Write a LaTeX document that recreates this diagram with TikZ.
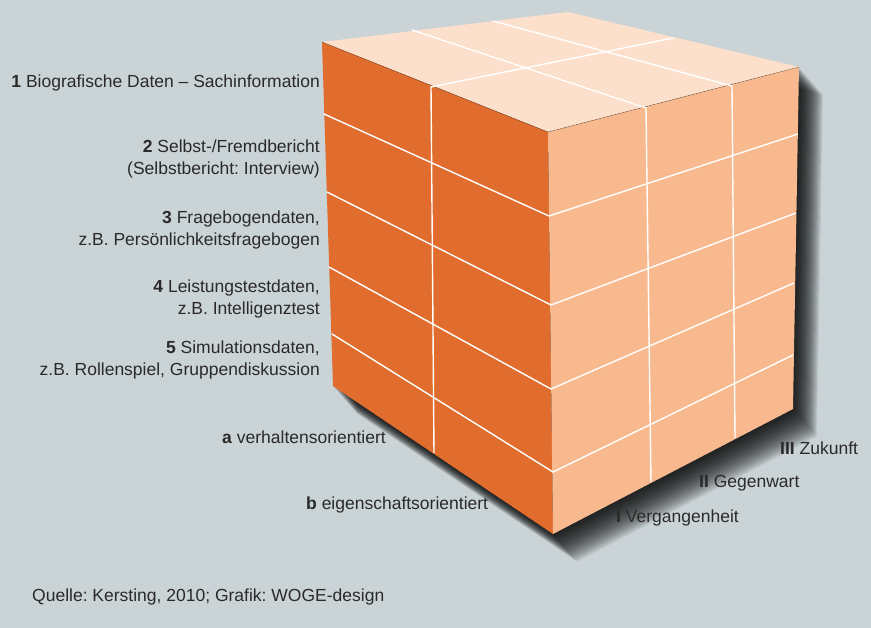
\documentclass[tikz,border=0pt]{standalone}
\usepackage{fontspec}
\setmainfont{Liberation Sans}
\usepackage{xcolor}
\definecolor{bgcol}{HTML}{CAD3D6}
\definecolor{leftcol}{HTML}{E06C2D}
\definecolor{rightcol}{HTML}{F9B98F}
\definecolor{topcol}{HTML}{FCE0CB}
\definecolor{textcol}{HTML}{2B2A29}
\frenchspacing

\begin{document}
\begin{tikzpicture}[x=1pt, y=-1pt,
			gridline/.style={white, line width=1.4pt},
			label/.style={inner sep=0pt, text=textcol, font=\fontsize{17.5}{22}\selectfont},
			rlabel/.style={label, anchor=east, align=right},
			llabel/.style={label, anchor=west}]
			
			\useasboundingbox (0,0) rectangle (871,628);
			\fill[bgcol] (0,0) rectangle (871,628);
			
			% Ecken des Wuerfels
			\coordinate (A) at (322,42);
			\coordinate (B) at (568,12);
			\coordinate (C) at (799,67);
			\coordinate (D) at (548,132);
			\coordinate (E) at (553,534);
			\coordinate (F) at (333,386);
			\coordinate (G) at (793,409);
			
			% Zeilen: links, vorne, rechts
			\coordinate (l1) at (324,114); \coordinate (f1) at (549,216); \coordinate (r1) at (798,134);
			\coordinate (l2) at (327,192); \coordinate (f2) at (551,305); \coordinate (r2) at (796,213);
			\coordinate (l3) at (329,267); \coordinate (f3) at (551,389); \coordinate (r3) at (794,283);
			\coordinate (l4) at (332,334); \coordinate (f4) at (553,472); \coordinate (r4) at (793,355);
			
			% Spalten
			\coordinate (ab) at (431,87);  \coordinate (abt) at (673,38);  \coordinate (abb) at (434,453);
			\coordinate (p1) at (646,108); \coordinate (p1t) at (412,30);  \coordinate (p1b) at (651,482);
			\coordinate (p2) at (732,86);  \coordinate (p2t) at (493,21);  \coordinate (p2b) at (735,438);
			
			% --- Schatten ---
			\foreach \k in {1,...,24}{
				\begin{scope}[transform canvas={shift={(\k*1.0pt,-\k*1.15pt)}}]
					\fill[black, opacity=0.065] (A) -- (B) -- (C) -- (G) -- (E) -- (F) -- cycle;
				\end{scope}
			}
			
			% --- Flaechen ---
			\fill[topcol] (A) -- (B) -- (C) -- (D) -- cycle;
			\fill[leftcol] (A) -- (D) -- (E) -- (F) -- cycle;
			\fill[rightcol] (D) -- (C) -- (G) -- (E) -- cycle;
			\draw[black, opacity=0.3, line width=0.6pt] (A) -- (D) -- (C);
			
			% --- Raster ---
			\foreach \i in {1,...,4}
				\draw[gridline] (l\i) -- (f\i) -- (r\i);
			\draw[gridline] (abt) -- (ab) -- (abb);
			\draw[gridline] (p1t) -- (p1) -- (p1b);
			\draw[gridline] (p2t) -- (p2) -- (p2b);
			
			% --- Beschriftung ---
			\node[rlabel] (n1) at (320,83) {\textbf{1} Biografische Daten – Sachinformation};
			\node[rlabel] (n2) at (320,159) {\textbf{2} Selbst-/Fremdbericht\\(Selbstbericht: Interview)};
			\node[rlabel] (n3) at (320,230) {\textbf{3} Fragebogendaten,\\z.B. Persönlichkeitsfragebogen};
			\node[rlabel] (n4) at (320,299) {\textbf{4} Leistungstestdaten,\\z.B. Intelligenztest};
			\node[rlabel] (n5) at (320,360) {\textbf{5} Simulationsdaten,\\z.B. Rollenspiel, Gruppendiskussion};
			
			\node[llabel] (na) at (222,437) {\textbf{a} verhaltensorientiert};
			\node[llabel] (nb) at (306,505) {\textbf{b} eigenschaftsorientiert};
			
			\node[llabel] (nI) at (616,518) {\textbf{I} Vergangenheit};
			\node[llabel] (nII) at (699,483) {\textbf{II} Gegenwart};
			\node[llabel] (nIII) at (780,448) {\textbf{III} Zukunft};
			
			\node[llabel] (src) at (32,597) {Quelle: Kersting, 2010; Grafik: WOGE-design};
			
		\end{tikzpicture}
\end{document}
